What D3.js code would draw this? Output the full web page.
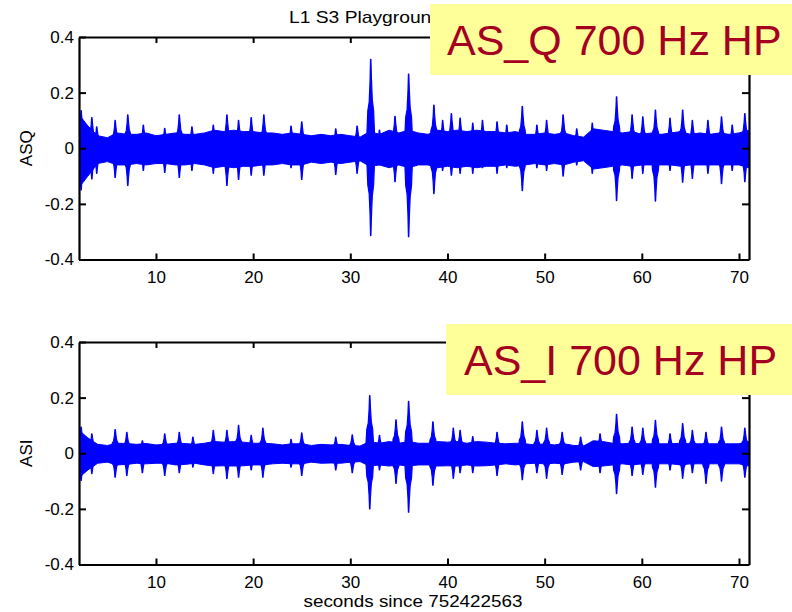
<!DOCTYPE html>
<html>
<head>
<meta charset="utf-8">
<script src="https://cdn.jsdelivr.net/npm/d3@7"></script>
<style>
  body { margin: 0; background: #fff; }
  svg text { font-family: "Liberation Sans", Arial, Helvetica, sans-serif; }
</style>
</head>
<body>
<div id="chart"></div>
<script>
// Time grid (s) for the quiet background envelope
const seconds = [2, 3, 4, 5, 6, 7, 8, 9, 10, 11, 12, 13, 14, 15, 16, 17, 18, 19, 20, 21,
  22, 23, 24, 25, 26, 27, 28, 29, 30, 31, 32, 33, 34, 35, 36, 37, 38, 39, 40, 41,
  42, 43, 44, 45, 46, 47, 48, 49, 50, 51, 52, 53, 54, 55, 56, 57, 58, 59, 60, 61,
  62, 63, 64, 65, 66, 67, 68, 69, 70, 71];

// ASQ background envelope
const qBaseUp = [0.125, 0.08, 0.045, 0.038, 0.055, 0.05, 0.05, 0.055, 0.045, 0.05, 0.055, 0.05, 0.05, 0.055, 0.065, 0.06, 0.065, 0.06, 0.06, 0.055,
  0.055, 0.05, 0.055, 0.05, 0.045, 0.05, 0.045, 0.05, 0.045, 0.04, 0.06, 0.05, 0.065, 0.055, 0.065, 0.055, 0.05, 0.065, 0.06, 0.065,
  0.06, 0.065, 0.06, 0.06, 0.055, 0.06, 0.05, 0.05, 0.055, 0.05, 0.055, 0.045, 0.04, 0.07, 0.065, 0.06, 0.055, 0.06, 0.05, 0.055,
  0.05, 0.055, 0.06, 0.05, 0.055, 0.05, 0.055, 0.05, 0.055, 0.065];
const qBaseDn = [-0.145, -0.1, -0.055, -0.048, -0.06, -0.06, -0.055, -0.06, -0.055, -0.055, -0.06, -0.06, -0.055, -0.06, -0.07, -0.065, -0.07, -0.065, -0.065, -0.06,
  -0.06, -0.055, -0.06, -0.06, -0.05, -0.055, -0.05, -0.055, -0.05, -0.045, -0.065, -0.06, -0.07, -0.06, -0.07, -0.06, -0.06, -0.07, -0.065, -0.07,
  -0.065, -0.07, -0.065, -0.065, -0.06, -0.065, -0.06, -0.055, -0.06, -0.055, -0.06, -0.05, -0.045, -0.075, -0.07, -0.065, -0.06, -0.065, -0.06, -0.06,
  -0.06, -0.06, -0.065, -0.06, -0.06, -0.06, -0.06, -0.06, -0.06, -0.07];

// ASQ transient bursts
const qSpikeT = [2.3, 3.4, 3.9, 5.8, 7.1, 8.7, 10.9, 12.4, 13.7, 15.9, 17.3, 18.5, 19.8, 21.1, 23.9, 25.0, 28.5, 30.7,
  32.1, 33.0, 34.6, 36.0, 38.6, 39.5, 40.4, 41.3, 42.6, 43.6, 45.1, 46.1, 47.7, 49.2, 50.2, 51.9, 53.3, 54.9,
  57.4, 59.0, 60.1, 61.4, 62.9, 64.2, 65.2, 66.8, 68.2, 69.3, 70.6];
const qSpikeUp = [0.135, 0.11, 0.077, 0.10, 0.12, 0.083, 0.072, 0.12, 0.077, 0.083, 0.12, 0.10, 0.11, 0.12, 0.08, 0.095, 0.07, 0.08,
  0.32, 0.065, 0.115, 0.267, 0.155, 0.10, 0.125, 0.108, 0.09, 0.10, 0.095, 0.083, 0.151, 0.083, 0.10, 0.12, 0.07, 0.09,
  0.185, 0.12, 0.113, 0.137, 0.108, 0.137, 0.10, 0.10, 0.113, 0.083, 0.125];
const qSpikeDn = [-0.15, -0.11, -0.09, -0.105, -0.134, -0.08, -0.087, -0.105, -0.08, -0.09, -0.134, -0.112, -0.097, -0.097, -0.07, -0.112, -0.094, -0.09,
  -0.314, -0.06, -0.12, -0.318, -0.163, -0.08, -0.097, -0.09, -0.09, -0.07, -0.09, -0.07, -0.152, -0.07, -0.08, -0.10, -0.06, -0.09,
  -0.188, -0.108, -0.09, -0.19, -0.08, -0.122, -0.108, -0.09, -0.127, -0.08, -0.12];

// ASI background envelope
const iBaseUp = [0.085, 0.055, 0.032, 0.028, 0.036, 0.035, 0.032, 0.035, 0.03, 0.032, 0.036, 0.035, 0.032, 0.036, 0.042, 0.04, 0.042, 0.04, 0.036, 0.036,
  0.034, 0.03, 0.034, 0.034, 0.028, 0.032, 0.03, 0.032, 0.028, 0.026, 0.042, 0.036, 0.042, 0.036, 0.042, 0.036, 0.036, 0.042, 0.04, 0.042,
  0.036, 0.042, 0.04, 0.036, 0.034, 0.036, 0.034, 0.03, 0.034, 0.03, 0.034, 0.028, 0.026, 0.045, 0.042, 0.036, 0.034, 0.036, 0.034, 0.034,
  0.034, 0.034, 0.036, 0.034, 0.034, 0.034, 0.034, 0.034, 0.034, 0.042];
const iBaseDn = [-0.09, -0.06, -0.036, -0.032, -0.042, -0.04, -0.036, -0.038, -0.036, -0.036, -0.042, -0.04, -0.036, -0.042, -0.046, -0.045, -0.046, -0.045, -0.042, -0.042,
  -0.038, -0.036, -0.038, -0.038, -0.032, -0.036, -0.035, -0.036, -0.032, -0.03, -0.046, -0.042, -0.046, -0.042, -0.046, -0.042, -0.042, -0.046, -0.045, -0.046,
  -0.042, -0.046, -0.045, -0.042, -0.038, -0.042, -0.038, -0.036, -0.038, -0.036, -0.038, -0.032, -0.03, -0.048, -0.046, -0.042, -0.038, -0.042, -0.038, -0.038,
  -0.038, -0.038, -0.042, -0.038, -0.038, -0.038, -0.038, -0.038, -0.038, -0.046];

// ASI transient bursts
const iSpikeT = [2.3, 3.4, 5.8, 7.0, 8.6, 10.9, 12.4, 13.8, 15.9, 17.3, 18.5, 19.8, 21.0, 23.9, 25.0, 28.5, 30.2,
  32.0, 33.0, 34.7, 36.0, 38.5, 40.6, 41.3, 42.6, 45.1, 47.7, 49.2, 50.2, 51.8, 53.7, 55.7,
  57.4, 59.0, 60.1, 61.4, 62.9, 64.2, 65.2, 66.6, 68.2, 70.6];
const iSpikeUp = [0.094, 0.07, 0.085, 0.075, 0.045, 0.07, 0.075, 0.058, 0.082, 0.082, 0.10, 0.064, 0.09, 0.05, 0.073, 0.058, 0.066,
  0.207, 0.064, 0.12, 0.187, 0.113, 0.09, 0.082, 0.06, 0.075, 0.113, 0.082, 0.09, 0.075, 0.058, 0.07,
  0.14, 0.094, 0.09, 0.118, 0.07, 0.107, 0.082, 0.075, 0.094, 0.09];
const iSpikeDn = [-0.098, -0.073, -0.086, -0.08, -0.07, -0.08, -0.07, -0.05, -0.073, -0.091, -0.086, -0.06, -0.086, -0.05, -0.08, -0.06, -0.07,
  -0.20, -0.06, -0.108, -0.212, -0.115, -0.09, -0.07, -0.07, -0.08, -0.095, -0.07, -0.09, -0.076, -0.06, -0.07,
  -0.145, -0.08, -0.076, -0.122, -0.06, -0.09, -0.07, -0.108, -0.10, -0.086];

const xTicks = [10, 20, 30, 40, 50, 60, 70];
const yTicks = [-0.4, -0.2, 0, 0.2, 0.4];

const W = 792, H = 612;
const left = 79, right = 749;
const plotH = 222.5;
const blue = "#0000ff";

const svg = d3.select("#chart").append("svg")
    .attr("width", W)
    .attr("height", H);

const x = d3.scaleLinear()
    .domain([2.08, 71.03])
    .range([left, right]);

const panels = [
    { top: 37, label: "ASQ", up: qBaseUp, dn: qBaseDn, st: qSpikeT, su: qSpikeUp, sd: qSpikeDn,
      box: { x: 430, y: 4, text: "AS_Q 700 Hz HP", tx: 447, ty: 55 } },
    { top: 342, label: "ASI", up: iBaseUp, dn: iBaseDn, st: iSpikeT, su: iSpikeUp, sd: iSpikeDn,
      box: { x: 446, y: 324, text: "AS_I 700 Hz HP", tx: 464, ty: 375 } }
];

// shape of one burst: offset in seconds and fraction of its peak
const burstShape = [[-0.45, 0], [-0.3, 0.42], [-0.16, 0.52], [-0.07, 0.75], [-0.02, 1], [0.02, 1],
  [0.07, 0.8], [0.16, 0.55], [0.3, 0.42], [0.45, 0]];

panels.forEach(p => {
    const y = d3.scaleLinear()
        .domain([-0.4, 0.4])
        .range([p.top + plotH, p.top]);

    const g = svg.append("g");

    const clipId = "clip-" + p.label;
    svg.append("clipPath").attr("id", clipId)
        .append("rect")
        .attr("x", left).attr("y", p.top)
        .attr("width", right - left).attr("height", plotH);

    const sig = g.append("g").attr("clip-path", `url(#${clipId})`);

    const area = d3.area()
        .x(d => x(d.t))
        .y0(d => y(d.dn))
        .y1(d => y(d.up));

    // background band
    const band = seconds.map((t, i) => ({ t, up: p.up[i], dn: p.dn[i] }));
    sig.append("path")
        .datum(band)
        .attr("fill", blue)
        .attr("stroke", blue)
        .attr("stroke-width", 1)
        .attr("d", area);

    // bursts
    p.st.forEach((t, i) => {
        const pts = burstShape.map(([dt, f]) => ({ t: t + dt, up: p.su[i] * f, dn: p.sd[i] * f }));
        sig.append("path")
            .datum(pts)
            .attr("fill", blue)
            .attr("stroke", blue)
            .attr("stroke-width", 1.2)
            .attr("stroke-linejoin", "round")
            .attr("d", area);
    });

    // axes, MATLAB style with inward ticks on every side
    const bottom = g.append("g")
        .attr("transform", `translate(0,${p.top + plotH})`)
        .call(d3.axisBottom(x).tickValues(xTicks).tickSizeInner(-6).tickSizeOuter(0).tickPadding(11));
    const top = g.append("g")
        .attr("transform", `translate(0,${p.top})`)
        .call(d3.axisTop(x).tickValues(xTicks).tickSizeInner(-6).tickSizeOuter(0).tickFormat(""));
    const leftAx = g.append("g")
        .attr("transform", `translate(${left},0)`)
        .call(d3.axisLeft(y).tickValues(yTicks).tickSizeInner(-7).tickSizeOuter(0).tickPadding(5)
            .tickFormat(d => d === 0 ? "0" : String(d)));
    const rightAx = g.append("g")
        .attr("transform", `translate(${right},0)`)
        .call(d3.axisRight(y).tickValues(yTicks).tickSizeInner(-7).tickSizeOuter(0).tickFormat(""));

    [bottom, top, leftAx, rightAx].forEach(a => {
        a.selectAll(".domain").attr("stroke", "#000").attr("stroke-width", 2.2);
        a.selectAll(".tick line").attr("stroke", "#000").attr("stroke-width", 2);
        a.selectAll("text")
            .attr("fill", "#000")
            .style("font-size", "17px")
            .style("font-family", "'Liberation Sans', Arial, sans-serif");
    });

    // y label
    g.append("text")
        .attr("transform", `translate(32,${p.top + plotH / 2}) rotate(-90)`)
        .attr("text-anchor", "middle")
        .style("font-size", "17px")
        .text(p.label);

    // yellow caption box
    g.append("rect")
        .attr("x", p.box.x).attr("y", p.box.y)
        .attr("width", W - p.box.x).attr("height", 71)
        .attr("fill", "#ffff99");
    if (p.label === "ASQ") {
        // title sits under the caption box
        svg.insert("text", ":first-child")
            .attr("x", 289).attr("y", 23)
            .attr("textLength", 153)
            .attr("lengthAdjust", "spacingAndGlyphs")
            .style("font-size", "17px")
            .text("L1 S3 Playground");
    }
    g.append("text")
        .attr("x", p.box.tx).attr("y", p.box.ty)
        .attr("fill", "#a50021")
        .style("font-size", "43px")
        .text(p.box.text);
});

svg.append("text")
    .attr("x", 413).attr("y", 607)
    .attr("text-anchor", "middle")
    .attr("textLength", 219)
    .attr("lengthAdjust", "spacingAndGlyphs")
    .style("font-size", "17px")
    .text("seconds since 752422563");
</script>
</body>
</html>
